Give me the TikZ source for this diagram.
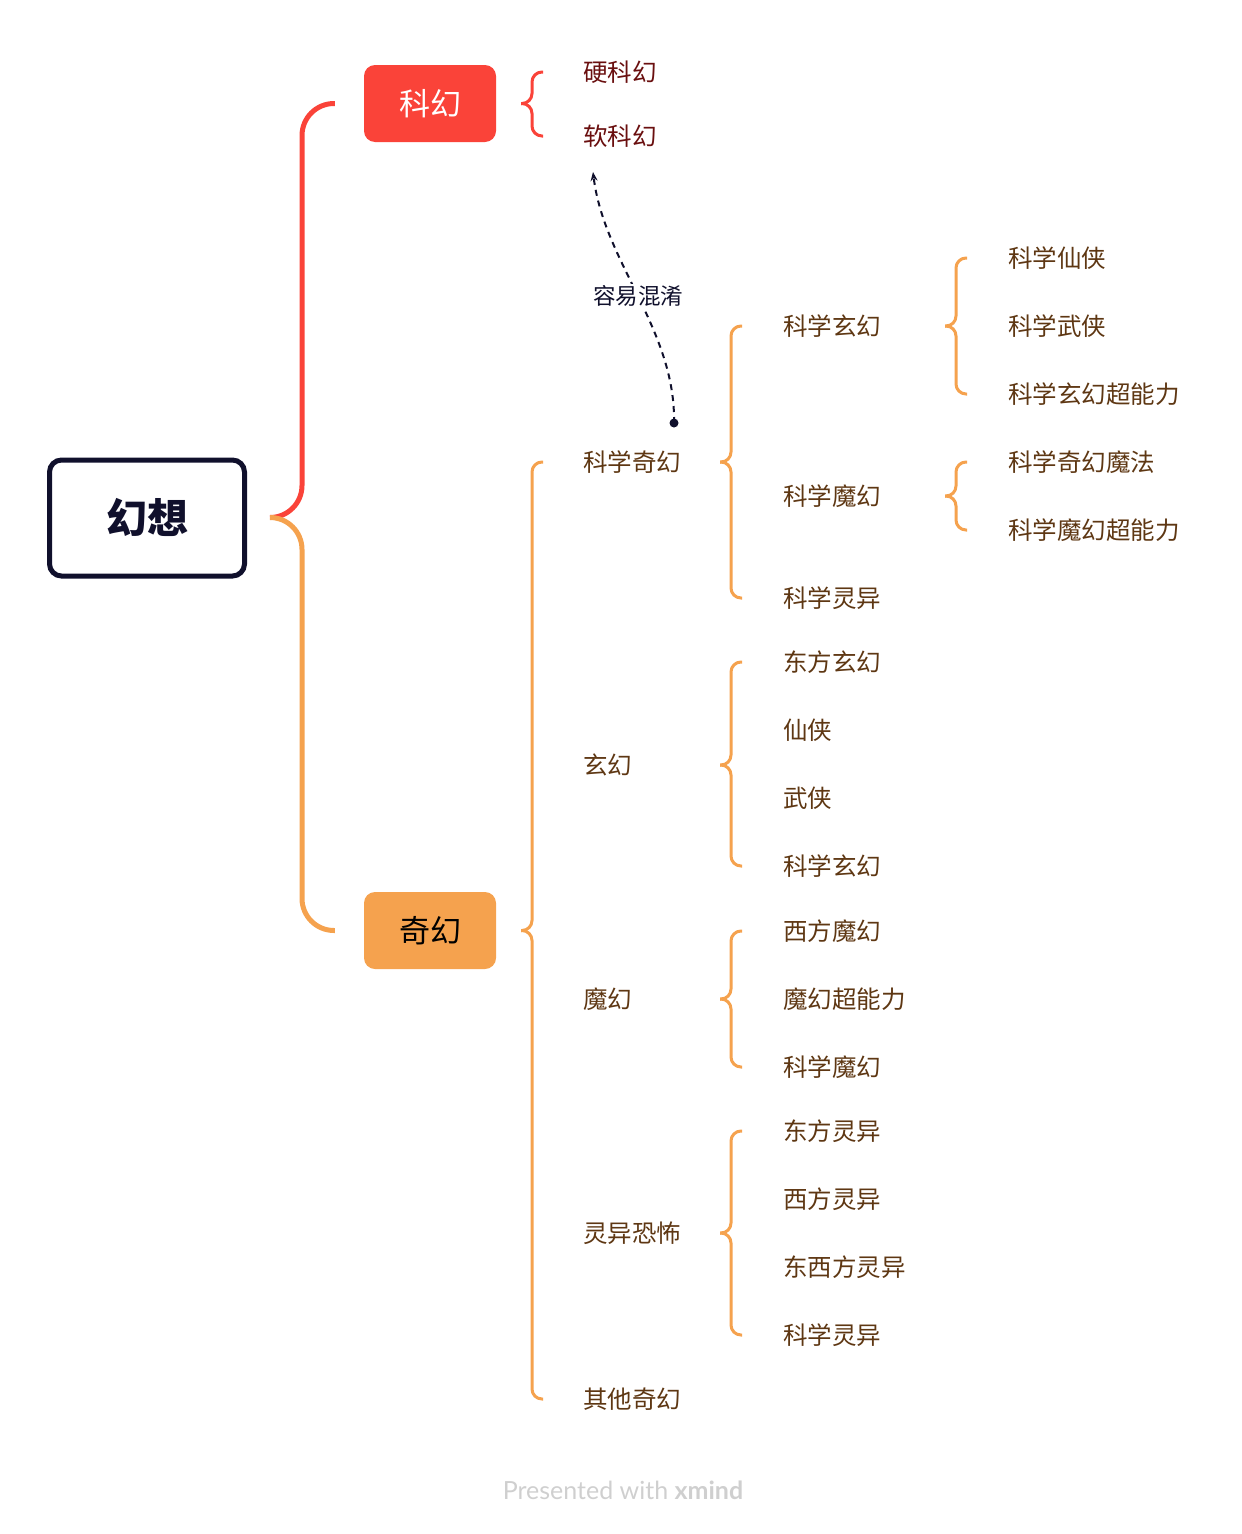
\documentclass[tikz,border=0pt]{standalone}
\usepackage{fontspec}
\setmainfont{Noto Sans CJK SC}
\newfontfamily\footfont{Lato}
\usetikzlibrary{calc,arrows.meta}
\definecolor{kred}{HTML}{FA4339}
\definecolor{korange}{HTML}{F5A24E}
\definecolor{knavy}{HTML}{10102C}
\definecolor{kredtext}{HTML}{6A0F0F}
\definecolor{kbrown}{HTML}{5E3713}
\definecolor{kgray}{HTML}{CFCFCF}
\tikzset{
  lbl/.style={anchor=west, inner sep=0pt, text height=19.6pt, text depth=1.2pt,
    font=\fontsize{24.5}{26}\selectfont},
  sfk/.style={lbl, text=kredtext},
  qhk/.style={lbl, text=kbrown},
  topicbox/.style={minimum width=132pt, minimum height=77pt, rounded corners=11pt,
    inner sep=0pt, text height=24.8pt, text depth=1.5pt, font=\fontsize{31}{33}\selectfont},
  rbr/.style={draw=kred, line width=3pt, rounded corners=10pt},
  obr/.style={draw=korange, line width=3pt, rounded corners=10pt},
  mainbr/.style={line width=5pt, rounded corners=32pt},
}
\newcommand\kbrace[5]{%
  \draw[#1] ($(#2 |- #4)+(22,0)$) -- ($(#2 |- #4)+(11,0)$) -- ($(#2 |- #3)+(11,0)$) -- (#2 |- #3);
  \draw[#1] (#2 |- #3) -- ($(#2 |- #3)+(11,0)$) -- ($(#2 |- #5)+(11,0)$) -- ($(#2 |- #5)+(22,0)$);
}
\begin{document}
\begin{tikzpicture}[x=1pt,y=-1pt]
\useasboundingbox (0,0) rectangle (1242,1534);
% root
\node[draw=knavy, line width=5pt, rounded corners=12pt, minimum width=195pt, minimum height=116pt,
  inner sep=0pt, text height=32.8pt, text depth=2pt,
  font=\bfseries\fontsize{41}{43}\selectfont, text=knavy] (root) at (147,518) {幻想};
% main topics
\node[topicbox, fill=kred, text=white] (sf) at (430,103.5) {科幻};
\node[topicbox, fill=korange, text=black] (qh) at (430,930.5) {奇幻};
% sci-fi children
\node[sfk] (sf1) at (583,72) {硬科幻};
\node[sfk] (sf2) at (583,136) {软科幻};
% fantasy children
\node[qhk] (q1) at (583,462) {科学奇幻};
\node[qhk] (q2) at (583,765) {玄幻};
\node[qhk] (q3) at (583,999) {魔幻};
\node[qhk] (q4) at (583,1233) {灵异恐怖};
\node[qhk] (q5) at (583,1399) {其他奇幻};
\node[qhk] (q11) at (783,326) {科学玄幻};
\node[qhk] (q12) at (783,496) {科学魔幻};
\node[qhk] (q13) at (783,598) {科学灵异};
\node[qhk] (q111) at (1008,258) {科学仙侠};
\node[qhk] (q112) at (1008,326) {科学武侠};
\node[qhk] (q113) at (1008,394) {科学玄幻超能力};
\node[qhk] (q121) at (1008,462) {科学奇幻魔法};
\node[qhk] (q122) at (1008,530) {科学魔幻超能力};
\node[qhk] (q21) at (783,662) {东方玄幻};
\node[qhk] (q22) at (783,730) {仙侠};
\node[qhk] (q23) at (783,798) {武侠};
\node[qhk] (q24) at (783,866) {科学玄幻};
\node[qhk] (q31) at (783,931) {西方魔幻};
\node[qhk] (q32) at (783,999) {魔幻超能力};
\node[qhk] (q33) at (783,1067) {科学魔幻};
\node[qhk] (q41) at (783,1131) {东方灵异};
\node[qhk] (q42) at (783,1199) {西方灵异};
\node[qhk] (q43) at (783,1267) {东西方灵异};
\node[qhk] (q44) at (783,1335) {科学灵异};
% columns for brace tips
\coordinate (c1) at (521,0);
\coordinate (c2) at (720,0);
\coordinate (c3) at (945,0);
% main bracket
\coordinate (rt) at (270,517.5);
\draw[mainbr, draw=kred] (rt) -- ++(32,0) |- ($(sf.west)+(-29,0)$);
\draw[mainbr, draw=korange] (rt) -- ++(32,0) |- ($(qh.west)+(-29,0)$);
% braces
\kbrace{rbr}{c1}{sf}{sf1}{sf2}
\kbrace{obr}{c1}{qh}{q1}{q5}
\kbrace{obr}{c2}{q1}{q11}{q13}
\kbrace{obr}{c3}{q11}{q111}{q113}
\kbrace{obr}{c3}{q12}{q121}{q122}
\kbrace{obr}{c2}{q2}{q21}{q24}
\kbrace{obr}{c2}{q3}{q31}{q33}
\kbrace{obr}{c2}{q4}{q41}{q44}
% relationship
\coordinate (rs) at (674,423);
\coordinate (re) at (593,172);
\draw[knavy, line width=2pt, dash pattern=on 6pt off 5pt, -{Stealth[length=9pt,width=7pt]}]
  (rs) .. controls (676,330) and (604,262) .. (re)
  node[pos=0.5, fill=white, inner sep=3pt, text=knavy, font=\fontsize{22.5}{24}\selectfont,
       text height=18pt, text depth=1.1pt] (rl) {容易混淆};
\fill[knavy] (rs) circle (4.5pt);
% footer
\node[text=kgray, font=\footfont\fontsize{25}{27}\selectfont] (ft) at (623,1490) {Presented with \textbf{xmind}};
\end{tikzpicture}
\end{document}
